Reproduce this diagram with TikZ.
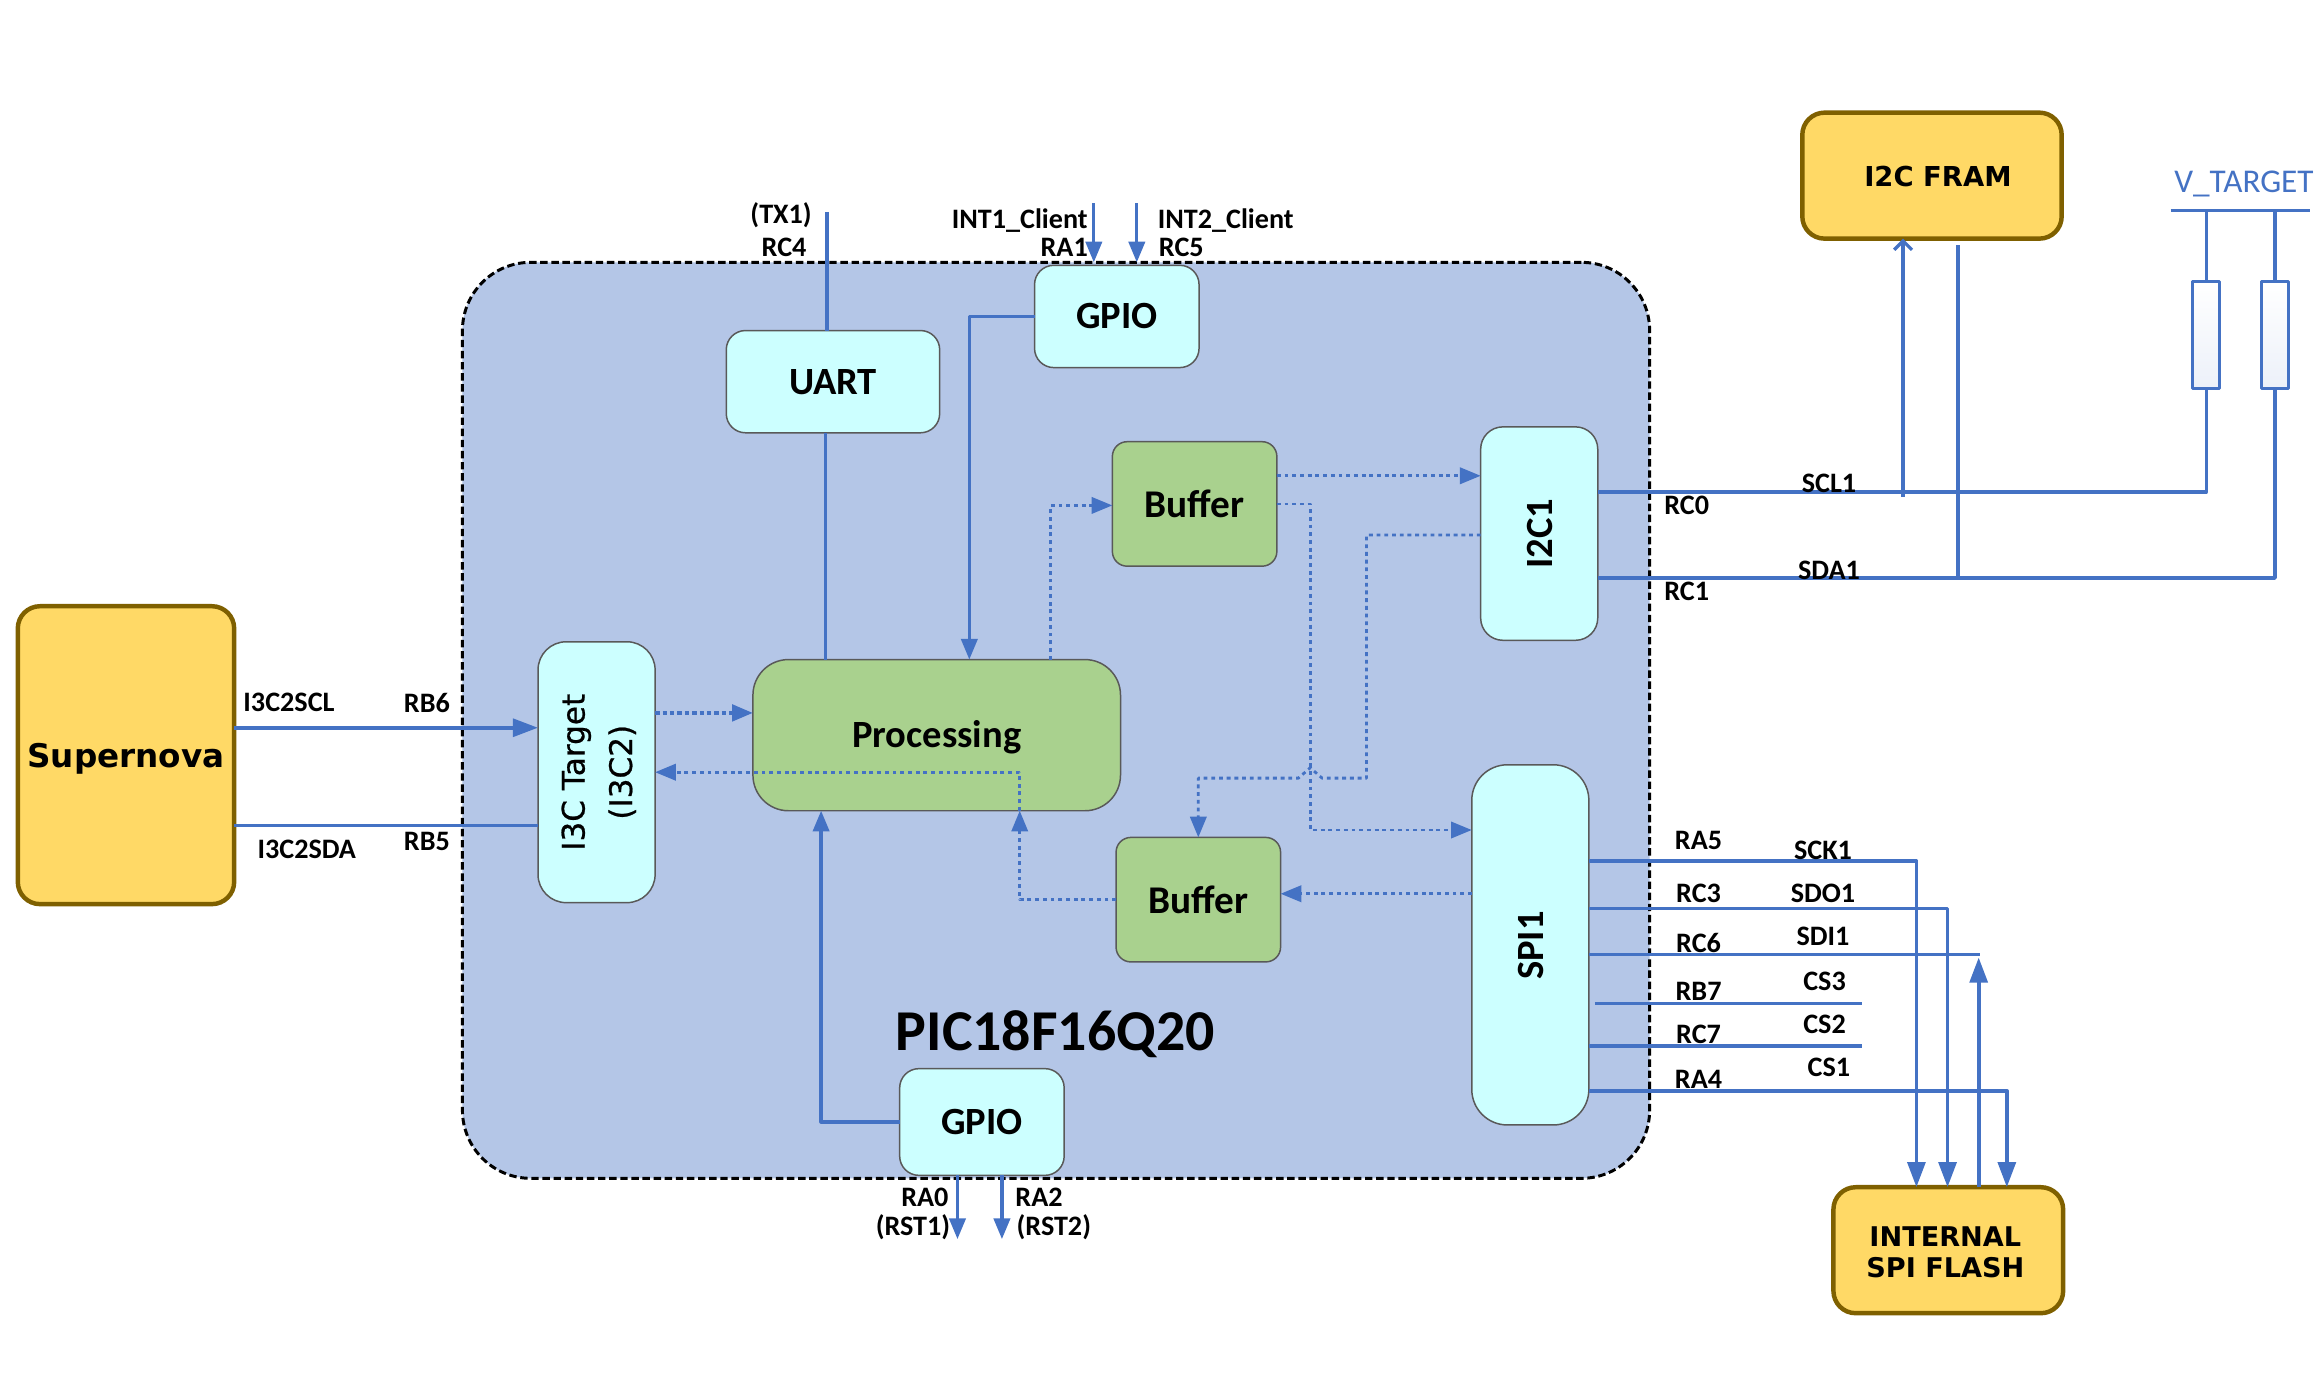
\documentclass[tikz,border=0pt]{standalone}
\usepackage{fontspec}
\setmainfont{Carlito}
\newfontfamily\dejavu{DejaVu Sans}
\newfontfamily\dejavumed[FakeBold=0.7]{DejaVu Sans}
\usetikzlibrary{arrows.meta, calc}
\definecolor{chipblue}{HTML}{B4C6E7}
\definecolor{wireblue}{HTML}{4472C4}
\definecolor{periphcyan}{HTML}{CCFFFF}
\definecolor{procgreen}{HTML}{A9D18E}
\definecolor{extyellow}{HTML}{FFD966}
\definecolor{extbrown}{HTML}{7F6000}
\newcommand{\fsize}[1]{\fontsize{#1}{#1}\selectfont}
\tikzset{
    every path/.style={line join=round},
    >={Triangle[length=14pt, width=11pt]},
    box/.style={draw=black!65, line width=1pt, outer sep=0pt, inner sep=0pt, align=center},
    periph/.style={box, fill=periphcyan, rounded corners=13pt, font=\fsize{26}\bfseries},
    buffer/.style={box, fill=procgreen, rounded corners=10pt, minimum width=111, minimum height=84, font=\fsize{26.5}\bfseries},
    external/.style={draw=extbrown, fill=extyellow, line width=3pt, rounded corners=15pt, outer sep=0pt, inner sep=0pt, align=center, font=\dejavu\bfseries},
    wire/.style={wireblue, line width=2.2pt},
    bigwire/.style={wireblue, line width=2.6pt, >={Triangle[length=17pt, width=12pt]}},
    dotwire/.style={wireblue, line width=1.9pt, dash pattern=on 2.6pt off 2.6pt},
    pinlabel/.style={inner sep=0pt, font=\fsize{19}\bfseries}
}
\begin{document}
\begin{tikzpicture}[x=1pt, y=-1pt]
    \useasboundingbox (0,0) rectangle (1568,927);
    % device outline
    \node [draw=black, fill=chipblue, line width=2pt, dash pattern=on 5pt off 2.5pt, rounded corners=46pt, minimum width=801, minimum height=618, outer sep=0pt] (chip) at (712.5,486) {};
    \node [font=\fsize{39}\bfseries, inner sep=0pt] (chipname) at (712,698) {PIC18F16Q20};
    % outside parts
    \node [external, minimum width=146, minimum height=201, font=\dejavu\bfseries\fsize{22}] (supernova) at (85,509.5) {\raisebox{-8.5pt}[0pt][0pt]{Supernova}};
    \node [external, minimum width=175, minimum height=85, font=\dejavu\bfseries\fsize{18.5}] (fram) at (1303.5,118.5) {\hspace*{8pt}\raisebox{-7.3pt}[0pt][0pt]{I2C FRAM}};
    \node [external, minimum width=155, minimum height=85] (flash) at (1314.5,843.5) {};
    \node [inner sep=0pt, align=center, font=\dejavu\bfseries\fsize{18.3}] (flashname) at (1312.5,845) {INTERNAL\\[3pt]SPI FLASH};
    % peripherals
    \node [periph, minimum width=144, minimum height=69] (uart) at (562,257.5) {UART};
    \node [periph, minimum width=111, minimum height=69] (gpiotop) at (753.5,213.5) {GPIO};
    \node [periph, minimum width=111, minimum height=72] (gpiobot) at (662.5,757) {GPIO};
    \node [periph, minimum width=79, minimum height=176, rounded corners=19pt] (i3c) at (402.5,521) {};
    \node [rotate=90, inner sep=0pt, align=center, font=\dejavumed\fsize{21}] (i3cname) at (404,521) {I3C Target\\[11pt](I3C2)};
    \node [periph, minimum width=79, minimum height=144, rounded corners=15pt] (i2c) at (1038.5,360) {};
    \node [rotate=90, inner sep=0pt, font=\fsize{26}\bfseries] (i2cname) at (1039,360) {I2C1};
    \node [periph, minimum width=79, minimum height=243, rounded corners=24pt] (spi) at (1032.5,637.5) {};
    \node [rotate=90, inner sep=0pt, font=\fsize{26}\bfseries] (spiname) at (1033,638) {SPI1};
    % processing and buffers
    \node [box, fill=procgreen, rounded corners=24pt, minimum width=248, minimum height=102, font=\fsize{26}\bfseries] (proc) at (632,496) {\raisebox{-8pt}[0pt][0pt]{Processing}};
    \node [buffer] (bufone) at (806,340) {Buffer};
    \node [buffer] (buftwo) at (808.5,607) {Buffer};
    % pull-ups
    \coordinate (rail) at (1511.5,142);
    \node [draw=wireblue, line width=2pt, top color=white, bottom color=chipblue!25, minimum width=18, minimum height=72, inner sep=0pt, outer sep=0pt] (rone) at (1488.5,226) {};
    \node [draw=wireblue, line width=2pt, top color=white, bottom color=chipblue!25, minimum width=18, minimum height=72, inner sep=0pt, outer sep=0pt] (rtwo) at (1535,226) {};
    \node [inner sep=0pt, text=wireblue, font=\fsize{22.4}] (vtarget) at (1514,124) {V\_TARGET};
    \draw [wire] ($(rail)+(-47,0)$) -- ($(rail)+(47,0)$);
    \draw [wire] (rone.north |- rail) -- (rone.north);
    \draw [wire] (rtwo.north |- rail) -- (rtwo.north);
    % i3c side
    \draw [bigwire, ->] (supernova.east |- 0,491) -- (i3c.west |- 0,491);
    \draw [bigwire] (supernova.east |- 0,557) -- (i3c.west |- 0,557);
    \draw [wireblue, line width=2.6pt, dash pattern=on 3pt off 2pt, ->] (i3c.east |- 0,481) -- (proc.west |- 0,481);
    \draw [dotwire, ->] (proc.south -| 688,0) -- (688,521) -- (i3c.east |- 0,521);
    % uart and gpio
    \draw [wire] (558,143) -- (uart.north -| 558,0);
    \draw [wire] (uart.south -| 557,0) -- (proc.north -| 557,0);
    \draw [wire, ->] (gpiotop.west) -- (654,213.5) -- (proc.north -| 654,0);
    \draw [wire, ->] (738,137) -- (chip.north -| 738,0);
    \draw [wire, ->] (767,137) -- (chip.north -| 767,0);
    \draw [wire, ->] (gpiobot.west) -- (554,757) -- (proc.south -| 554,0);
    \draw [wire, ->] (gpiobot.south -| 646,0) -- (646,836);
    \draw [wire, ->] (gpiobot.south -| 676,0) -- (676,836);
    % data paths
    \draw [dotwire, ->] (proc.north -| 709,0) -- (709,341) -- (bufone.west |- 0,341);
    \draw [dotwire, ->] (bufone.east |- 0,321) -- (i2c.west |- 0,321);
    \draw [dotwire, ->] (bufone.east |- 0,340) -- (884,340) -- (884,560) -- (spi.west |- 0,560);
    \draw [dotwire, ->] (i2c.west |- 0,361) -- (922,361) -- (922,525) -- (892,525) -- (884,518) -- (876,525) -- (808.5,525) -- (buftwo.north);
    \draw [dotwire, ->] (spi.west |- 0,603) -- (buftwo.east |- 0,603);
    \draw [dotwire, ->] (buftwo.west) -- (688,607) -- (proc.south -| 688,0);
    % i2c bus
    \draw [wire] (i2c.east |- 0,332) -- (rone.south |- 0,332) -- (rone.south);
    \draw [wire] (i2c.east |- 0,390) -- (rtwo.south |- 0,390) -- (rtwo.south);
    \draw [wire, -{Straight Barb[length=6pt, width=12pt]}] (1284,335) -- (fram.south -| 1284,0);
    \draw [wire] (1321,390) -- (1321,165);
    % spi bus
    \draw [bigwire, ->] (spi.east |- 0,581) -- (1293,581) -- (flash.north -| 1293,0);
    \draw [bigwire, ->] (spi.east |- 0,613) -- (1314,613) -- (flash.north -| 1314,0);
    \draw [bigwire] (spi.east |- 0,644) -- (1336,644);
    \draw [bigwire, ->] (flash.north -| 1335,0) -- (1335,646);
    \draw [bigwire] (1076,677) -- (1256,677);
    \draw [bigwire] (spi.east |- 0,706) -- (1256,706);
    \draw [bigwire, ->] (spi.east |- 0,736) -- (1354,736) -- (flash.north -| 1354,0);
    % pin names
    \node [pinlabel] (tx) at (527,145) {(TX1)};
    \node [pinlabel] (rcfour) at (529,167) {RC4};
    \node [pinlabel] (intone) at (688,149) {INT1\_Client};
    \node [pinlabel] (raone) at (718,167) {RA1};
    \node [pinlabel] (inttwo) at (827,149) {INT2\_Client};
    \node [pinlabel] (rcfive) at (797,167) {RC5};
    \node [pinlabel] (scltarget) at (195,474) {I3C2SCL};
    \node [pinlabel] (rbsix) at (288,474) {RB6};
    \node [pinlabel] (sdatarget) at (207,573) {I3C2SDA};
    \node [pinlabel] (rbfive) at (288,568) {RB5};
    \node [pinlabel] (rczero) at (1138,341) {RC0};
    \node [pinlabel] (sclone) at (1234,326) {SCL1};
    \node [pinlabel] (rcone) at (1138,399) {RC1};
    \node [pinlabel] (sdaone) at (1234,385) {SDA1};
    \node [pinlabel] (rafive) at (1146,567) {RA5};
    \node [pinlabel] (sckone) at (1230,574) {SCK1};
    \node [pinlabel] (rcthree) at (1146,603) {RC3};
    \node [pinlabel] (sdoone) at (1230,603) {SDO1};
    \node [pinlabel] (rcsix) at (1146,636) {RC6};
    \node [pinlabel] (sdione) at (1230,632) {SDI1};
    \node [pinlabel] (rbseven) at (1146,669) {RB7};
    \node [pinlabel] (csthree) at (1231,662) {CS3};
    \node [pinlabel] (rcseven) at (1146,698) {RC7};
    \node [pinlabel] (cstwo) at (1231,691) {CS2};
    \node [pinlabel] (rafour) at (1146,728) {RA4};
    \node [pinlabel] (csone) at (1234,720) {CS1};
    \node [pinlabel] (razero) at (624,808) {RA0};
    \node [pinlabel] (rstone) at (616,828) {(RST1)};
    \node [pinlabel] (ratwo) at (701,808) {RA2};
    \node [pinlabel] (rsttwo) at (711,828) {(RST2)};
\end{tikzpicture}
\end{document}
